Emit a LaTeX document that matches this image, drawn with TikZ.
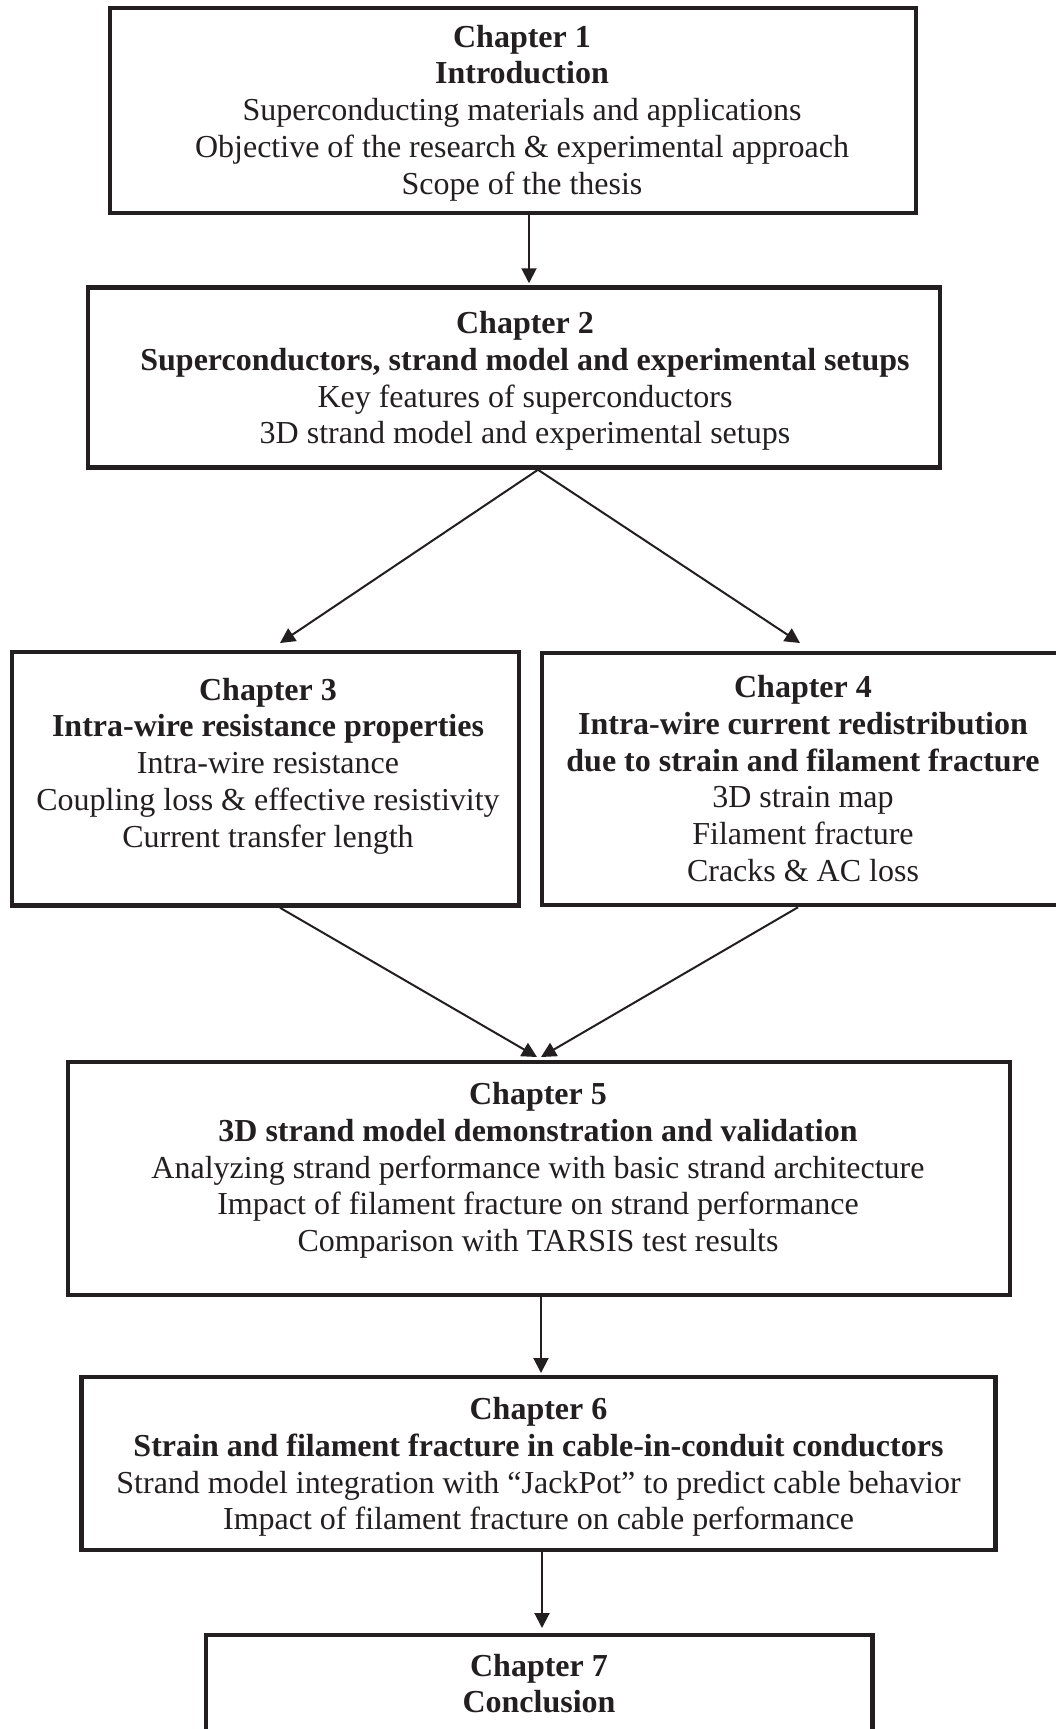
\documentclass[tikz,border=0pt]{standalone}
\usepackage{fontspec}
\setmainfont{Liberation Serif}
\usetikzlibrary{arrows.meta}
\definecolor{ink}{RGB}{35,31,32}
\begin{document}
\begin{tikzpicture}[x=1pt,y=-1pt,
  frame/.style={draw=ink, line width=4.5pt, inner sep=0pt},
  txt/.style={align=center, inner sep=0pt, text=ink, font=\fontsize{32}{36.7}\selectfont},
  conn/.style={draw=ink, line width=2pt, -{Triangle[length=15pt,width=15pt]}}]
\clip (0,0) rectangle (1056,1729);
\fill[white] (0,0) rectangle (1056,1729);
% frames
\node[frame, minimum width=806pt, minimum height=205pt] (b1) at (513,110.5) {};
\node[frame, minimum width=852pt, minimum height=180pt] (b2) at (514,377.5) {};
\node[frame, minimum width=507pt, minimum height=253.5pt] (b3) at (265.5,778.75) {};
\node[frame, minimum width=520pt, minimum height=252pt] (b4) at (802,779) {};
\node[frame, minimum width=942pt, minimum height=233pt] (b5) at (539,1178.5) {};
\node[frame, minimum width=914pt, minimum height=173pt] (b6) at (538.5,1463.5) {};
\node[frame, minimum width=666.5pt, minimum height=105pt] (b7) at (539.25,1687.5) {};
% texts
\node[txt] (t1) at (522,113) {\textbf{Chapter 1}\\\textbf{Introduction}\\Superconducting materials and applications\\Objective of the research \& experimental approach\\Scope of the thesis};
\node[txt] (t2) at (525,381) {\textbf{Chapter 2}\\\textbf{Superconductors, strand model and experimental setups}\\Key features of superconductors\\3D strand model and experimental setups};
\node[txt] (t3) at (268,766) {\textbf{Chapter 3}\\\textbf{Intra-wire resistance properties}\\Intra-wire resistance\\Coupling loss \& effective resistivity\\Current transfer length};
\node[txt] (t4) at (803,778.5) {\textbf{Chapter 4}\\\textbf{Intra-wire current redistribution}\\\textbf{due to strain and filament fracture}\\3D strain map\\Filament fracture\\Cracks \& AC loss};
\node[txt] (t5) at (538,1170.5) {\textbf{Chapter 5}\\\textbf{3D strand model demonstration and validation}\\Analyzing strand performance with basic strand architecture\\Impact of filament fracture on strand performance\\Comparison with TARSIS test results};
\node[txt] (t6) at (538.5,1467) {\textbf{Chapter 6}\\\textbf{Strain and filament fracture in cable-in-conduit conductors}\\Strand model integration with “JackPot” to predict cable behavior\\Impact of filament fracture on cable performance};
\node[txt] (t7) at (539,1683.5) {\textbf{Chapter 7}\\\textbf{Conclusion}};
% connectors
\draw[conn] ([xshift=16pt]b1.south) -- ([xshift=15pt,yshift=2pt]b2.north);
\draw[conn] ([xshift=24pt]b2.south) -- ([xshift=14.5pt,yshift=6.75pt]b3.north);
\draw[conn] ([xshift=24pt]b2.south) -- ([xshift=-2pt,yshift=7.75pt]b4.north);
\draw[conn] ([xshift=14.5pt]b3.south) -- ([xshift=-2pt,yshift=2.75pt]b5.north);
\draw[conn] ([xshift=-4pt]b4.south) -- ([xshift=2pt,yshift=2.75pt]b5.north);
\draw[conn] ([xshift=2pt]b5.south) -- ([xshift=2.5pt,yshift=1.75pt]b6.north);
\draw[conn] ([xshift=3.5pt]b6.south) -- ([xshift=2.75pt,yshift=4.75pt]b7.north);
\end{tikzpicture}
\end{document}
